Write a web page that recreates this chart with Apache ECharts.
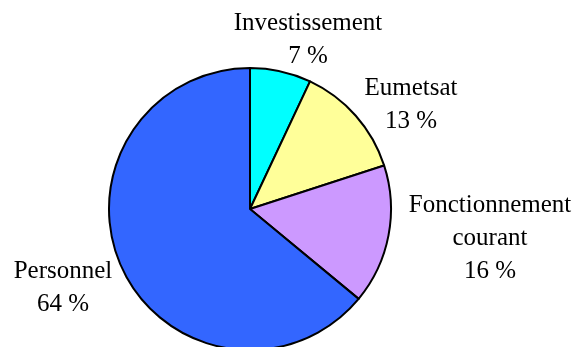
<!DOCTYPE html>
<html>
<head>
<meta charset="utf-8">
<script src="https://cdn.jsdelivr.net/npm/echarts@6/dist/echarts.min.js"></script>
<style>html,body{margin:0;padding:0;background:#fff}#c{width:582px;height:347px}</style>
</head>
<body>
<div id="c"></div>
<script>
var categories = ['Investissement', 'Eumetsat', 'Fonctionnement courant', 'Personnel'];
var values = [7, 13, 16, 64];

var colors = ['#00FFFF', '#FFFF99', '#CC99FF', '#3366FF'];
var labelPos = [[308, 40], [411, 105], [490, 238], [63, 288]];

var chart = echarts.init(document.getElementById('c'), null, {renderer: 'canvas'});
chart.setOption({
  animation: false,
  backgroundColor: '#fff',
  series: [{
    type: 'pie',
    center: [250, 209],
    radius: 141,
    startAngle: 90,
    clockwise: true,
    avoidLabelOverlap: false,
    data: categories.map(function (n, i) {
      return {name: n, value: values[i], itemStyle: {color: colors[i]}};
    }),
    itemStyle: {borderColor: '#000', borderWidth: 2},
    label: {
      show: true,
      position: 'outside',
      color: '#000',
      fontFamily: 'Liberation Serif, Times New Roman, serif',
      fontSize: 25,
      lineHeight: 33,
      align: 'center',
      formatter: function (p) {
        return p.name.replace(' ', '\n') + '\n' + p.value + ' %';
      }
    },
    labelLine: {show: false},
    labelLayout: function (p) {
      var pos = labelPos[p.dataIndex];
      return {x: pos[0], y: pos[1], align: 'center', verticalAlign: 'middle'};
    },
    emphasis: {disabled: true}
  }]
});
</script>
</body>
</html>
